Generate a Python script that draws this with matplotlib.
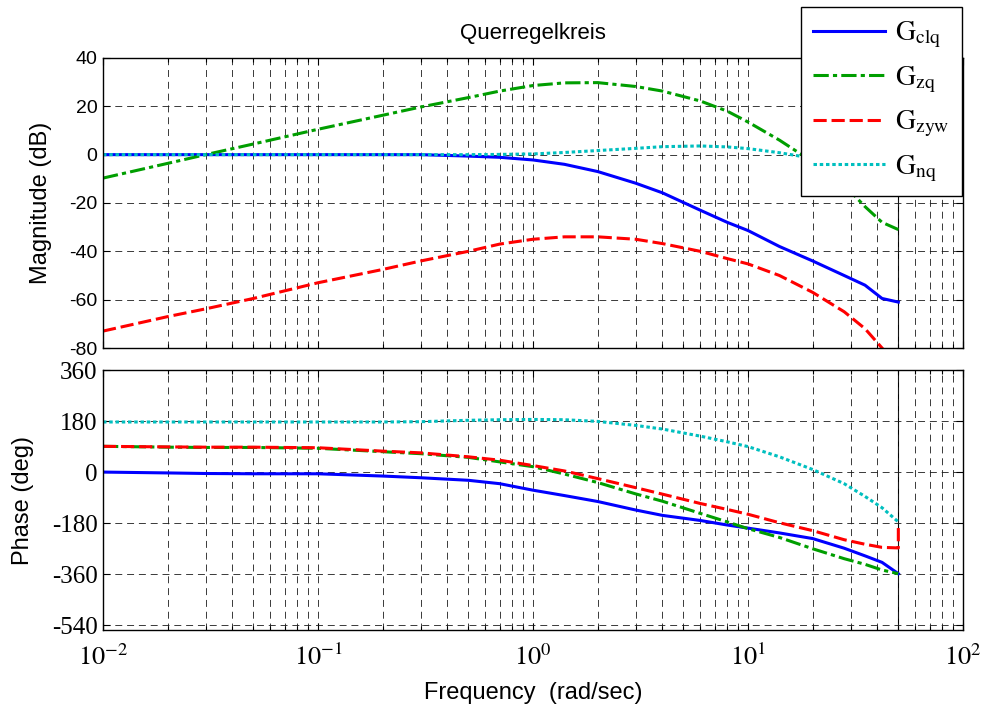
import numpy as np
import matplotlib
matplotlib.use('Agg')
import matplotlib.pyplot as plt
import matplotlib.ticker as mticker

plt.rcParams['font.family'] = ['Liberation Sans', 'DejaVu Sans']
plt.rcParams['mathtext.fontset'] = 'stix'
plt.rcParams['axes.unicode_minus'] = False
plt.rcParams['lines.scale_dashes'] = False

# frequency points (rad/sec)
freq = [0.01, 0.02, 0.03, 0.05, 0.1, 0.2, 0.3, 0.5, 0.7, 1.0, 1.4, 2.0,
        3.0, 4.0, 6.0, 8.0, 10.0, 14.0, 20.0, 28.0, 35.0, 42.0, 50.0]

# magnitude (dB)
mag_clq = [0.0, 0.0, 0.0, 0.0, 0.0, 0.0, 0.0, -0.6, -1.1, -2.2, -4.0, -7.0,
           -11.8, -15.8, -23.0, -28.0, -31.4, -38.0, -44.0, -50.0, -54.0,
           -59.5, -61.0]
mag_zq = [-9.7, -3.6, 0.0, 4.4, 10.5, 16.3, 19.7, 23.6, 26.3, 28.6, 29.7,
          29.8, 28.2, 26.3, 22.2, 18.0, 13.5, 6.0, -3.0, -12.5, -21.5, -28.0,
          -31.0]
mag_zyw = [-73.0, -67.0, -63.8, -59.5, -53.0, -47.5, -44.0, -40.0, -37.0,
           -35.0, -34.0, -34.0, -35.0, -36.8, -40.0, -43.0, -45.2, -50.0,
           -57.0, -65.0, -72.0, -80.0, -88.0]
mag_nq = [0.0, 0.0, 0.0, 0.0, 0.0, 0.0, 0.0, 0.0, 0.1, 0.3, 0.9, 1.7, 2.6,
          3.3, 3.6, 3.2, 2.5, 0.8, -1.5, -5.0, -8.0, -11.0, -14.0]

# phase (deg)
ph_clq = [1, -2, -4, -5, -5, -13, -19, -28, -40, -63, -82, -103, -133,
          -152, -170, -186, -197, -214, -234, -268, -295, -318, -358]
ph_zq = [92, 89, 88, 88, 85, 73, 66, 53, 37, 20, -6, -36, -76, -102, -145,
         -175, -199, -230, -270, -305, -325, -345, -358]
ph_zyw = [92, 90, 89, 89, 87, 75, 69, 55, 43, 24, 5, -22, -54, -77, -110,
          -131, -148, -178, -206, -238, -254, -265, -267, -180]
freq_zyw = freq + [50.0]
ph_nq = [178, 178, 178, 178, 178, 178, 179, 184, 186, 187, 186, 180, 166,
         153, 128, 108, 91, 55, 10, -40, -85, -125, -175]

mag_ticks = [-80, -60, -40, -20, 0, 20, 40]
ph_ticks = [-540, -360, -180, 0, 180, 360]

labels = [r'$\mathrm{G_{clq}}$', r'$\mathrm{G_{zq}}$',
          r'$\mathrm{G_{zyw}}$', r'$\mathrm{G_{nq}}$']
styles = [dict(color=(0, 0, 1), ls='-'),
          dict(color=(0, 0.62, 0), dashes=(11, 3, 3, 3)),
          dict(color=(1, 0, 0), dashes=(9.5, 3.5)),
          dict(color=(0, 0.75, 0.75), dashes=(2.5, 2.0))]

fig = plt.figure(figsize=(9.81, 7.13), dpi=100)
ax1 = fig.add_axes([0.105, 0.5119, 0.8767, 0.4068])
ax2 = fig.add_axes([0.105, 0.1164, 0.8767, 0.3640])

lines = []
for y, st, lab in zip([mag_clq, mag_zq, mag_zyw, mag_nq], styles, labels):
    l, = ax1.semilogx(freq, y, lw=2.2, label=lab, **st)
    lines.append(l)
for x, y, st in zip([freq, freq, freq_zyw, freq],
                    [ph_clq, ph_zq, ph_zyw, ph_nq], styles):
    ax2.semilogx(x, y, lw=2.2, **st)

for ax in (ax1, ax2):
    ax.axvline(50.0, color='k', lw=0.8, zorder=1)
    ax.set_xlim(0.01, 100)
    ax.xaxis.set_major_locator(mticker.LogLocator(base=10, numticks=10))
    ax.xaxis.set_minor_locator(mticker.LogLocator(base=10, subs=np.arange(2, 10),
                                                  numticks=20))
    ax.grid(True, which='both', axis='x', color='0.1', lw=0.6, dashes=(5, 3.5))
    ax.grid(True, which='major', axis='y', color='0.1', lw=0.6, dashes=(5, 3.5))
    ax.tick_params(which='both', direction='in', top=True, right=True)
    ax.tick_params(which='major', length=5, width=0.8)
    ax.tick_params(which='minor', length=3, width=0.8)
    for s in ax.spines.values():
        s.set_linewidth(1.0)

# magnitude axes
ax1.set_ylim(-80, 40)
ax1.set_yticks(mag_ticks)
ax1.tick_params(axis='y', labelsize=14, pad=4)
ax1.tick_params(axis='x', labelbottom=False)
ax1.set_ylabel('Magnitude (dB)', fontsize=17, va='center')
ax1.yaxis.set_label_coords(-0.072, 0.5)
ax1.set_title('Querregelkreis', fontsize=16, pad=14)

# phase axes
ax2.set_ylim(-557, 360)
ax2.set_yticks(ph_ticks, labels=[str(t) for t in ph_ticks],
               fontfamily='Liberation Serif', fontsize=18)
ax2.tick_params(axis='y', pad=4)
ax2.xaxis.set_major_formatter(
    mticker.FuncFormatter(lambda v, pos: r'$\mathrm{10^{%d}}$' % round(np.log10(v))))
ax2.tick_params(axis='x', labelsize=19, pad=10)
ax2.set_ylabel('Phase (deg)', fontsize=17, va='center')
ax2.yaxis.set_label_coords(-0.093, 0.5)
ax2.set_xlabel('Frequency  (rad/sec)', fontsize=17, va='center')
ax2.xaxis.set_label_coords(0.5, -0.243)

leg = ax1.legend(handles=lines, loc='upper right',
                 bbox_to_anchor=(962 / 981, 1 - 7 / 713),
                 bbox_transform=fig.transFigure, fontsize=20,
                 handlelength=2.6, handletextpad=0.35, borderpad=0.45,
                 labelspacing=0.5, borderaxespad=0, fancybox=False,
                 framealpha=1, edgecolor='k')
leg.get_frame().set_linewidth(1.0)

fig.savefig('out.png', dpi=100)
